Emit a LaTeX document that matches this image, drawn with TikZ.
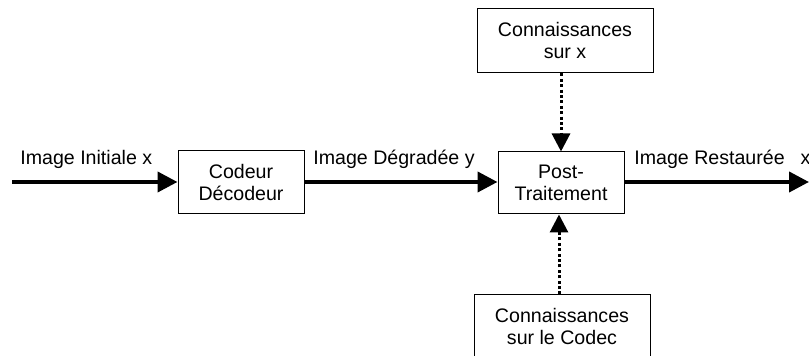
\documentclass[tikz,border=0pt]{standalone}
\usepackage{fontspec}
\setmainfont{Liberation Sans}
\usepackage{tikz}
\usetikzlibrary{arrows.meta}

\begin{document}
\begin{tikzpicture}[x=0.5pt, y=-0.5pt,
        bloc/.style={draw, line width=0.5pt, align=center, inner sep=0pt,
            font=\fontsize{9.8}{11}\selectfont},
        flux/.style={line width=2pt, -{Triangle[length=10pt, width=10pt]}},
        info/.style={line width=1.5pt, dash pattern=on 1.5pt off 1.2pt,
            -{Triangle[length=9pt, width=9pt]}},
        legende/.style={font=\fontsize{9.8}{11}\selectfont, inner sep=0pt}]
                \useasboundingbox (0, 0) rectangle (809, 356);
                \clip (0, 0) rectangle (809, 356);

                \node[bloc, minimum width=63pt, minimum height=31.5pt] (codec) at (241, 182.5) {Codeur\\D\'ecodeur};
                \node[bloc, minimum width=63pt, minimum height=31pt] (post) at (561, 183) {Post-\\Traitement};
                \node[bloc, minimum width=88pt, minimum height=32pt] (cx) at (565, 41) {Connaissances\\sur x};
                \node[bloc, minimum width=88pt, minimum height=32pt] (cc) at (562, 327) {Connaissances\\sur le Codec};

                \coordinate (entree) at (12, 182);
                \coordinate (sortie) at (809, 182);

                \draw[flux] (entree) -- (codec.west |- entree);
                \draw[flux] (codec.east |- entree) -- (post.west |- entree);
                \draw[flux] (post.east |- entree) -- (sortie);

                \draw[info] (cx.south -| 561, 0) -- (post.north -| 561, 0);
                \draw[info] (cc.north -| 559, 0) -- (post.south -| 559, 0);

                \node[legende, anchor=west] (l1) at (20, 159) {Image Initiale x};
                \node[legende, anchor=west] (l2) at (313, 159) {Image D\'egrad\'ee y};
                \node[legende, anchor=west] (l3) at (634, 159) {Image Restaur\'ee\hspace{8pt}x};
            \end{tikzpicture}
\end{document}
